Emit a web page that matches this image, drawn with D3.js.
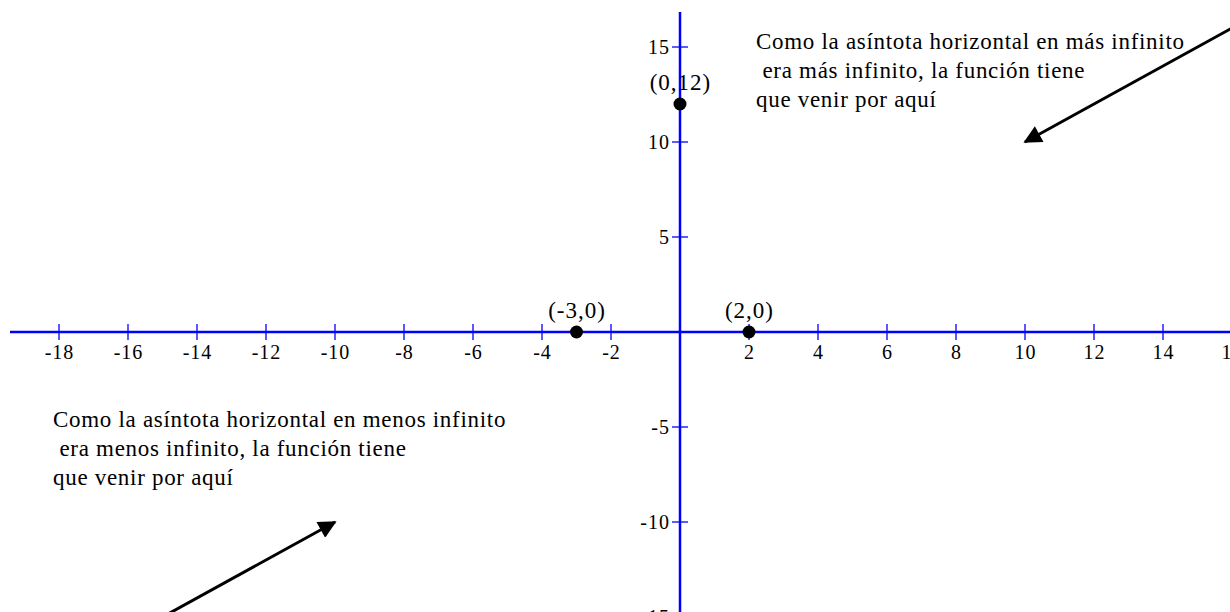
<!DOCTYPE html>
<html>
<head>
<meta charset="utf-8">
<script src="https://cdn.jsdelivr.net/npm/d3@7"></script>
<style>
  body { margin: 0; background: #fff; }
  svg { display: block; }
  text { font-family: "Liberation Serif", "Times New Roman", serif; fill: #000; }
</style>
</head>
<body>
<script>
// tick values on both axes
var xTicks = [-18, -16, -14, -12, -10, -8, -6, -4, -2, 2, 4, 6, 8, 10, 12, 14, 16];
var yTicks = [-15, -10, -5, 5, 10, 15];

// marked points and their labels
var points = [[-3, 0], [0, 12], [2, 0]];
var pointLabels = ["(-3,0)", "(0,12)", "(2,0)"];

// arrows: [from, to]
var arrowUp = [[16.5, 16.5], [10, 10]];
var arrowDown = [[-15.5, -15.5], [-10, -10]];

var textUp = ["Como la asíntota horizontal en más infinito",
              " era más infinito, la función tiene",
              "que venir por aquí"];
var textDown = ["Como la asíntota horizontal en menos infinito",
                " era menos infinito, la función tiene",
                "que venir por aquí"];

var w = 1230, h = 612;

var xScale = d3.scaleLinear().domain([-20, 20]).range([-10, 1370]);
var yScale = d3.scaleLinear().domain([-20, 20]).range([712, -48]);

var svg = d3.select("body").append("svg")
    .attr("width", w)
    .attr("height", h);

var blue = "#0000ff";

// axes lines
svg.append("line")
   .attr("x1", 10).attr("x2", w)
   .attr("y1", yScale(0)).attr("y2", yScale(0))
   .attr("stroke", blue).attr("stroke-width", 2.5);

svg.append("line")
   .attr("x1", xScale(0)).attr("x2", xScale(0))
   .attr("y1", 12).attr("y2", h)
   .attr("stroke", blue).attr("stroke-width", 2.5);

// x ticks
svg.selectAll(".xtick")
   .data(xTicks)
   .enter().append("line")
   .attr("class", "xtick")
   .attr("x1", function(d) { return xScale(d); })
   .attr("x2", function(d) { return xScale(d); })
   .attr("y1", yScale(0) - 8)
   .attr("y2", yScale(0) + 8)
   .attr("stroke", blue).attr("stroke-width", 1.3);

svg.selectAll(".xlabel")
   .data(xTicks)
   .enter().append("text")
   .attr("class", "xlabel")
   .attr("x", function(d) { return xScale(d) + 0.5; })
   .attr("y", yScale(0) + 27)
   .attr("text-anchor", "middle")
   .style("font-size", "20px")
   .style("letter-spacing", "1px")
   .text(function(d) { return d; });

// y ticks
svg.selectAll(".ytick")
   .data(yTicks)
   .enter().append("line")
   .attr("class", "ytick")
   .attr("x1", xScale(0) - 8)
   .attr("x2", xScale(0) + 8)
   .attr("y1", function(d) { return yScale(d); })
   .attr("y2", function(d) { return yScale(d); })
   .attr("stroke", blue).attr("stroke-width", 1.3);

svg.selectAll(".ylabel")
   .data(yTicks)
   .enter().append("text")
   .attr("class", "ylabel")
   .attr("x", xScale(0) - 10)
   .attr("y", function(d) { return yScale(d) + 7; })
   .attr("text-anchor", "end")
   .style("font-size", "20px")
   .style("letter-spacing", "1px")
   .text(function(d) { return d; });

// arrows
var defs = svg.append("defs");
defs.append("marker")
    .attr("id", "head")
    .attr("viewBox", "0 0 10 10")
    .attr("refX", 9).attr("refY", 5)
    .attr("markerWidth", 8).attr("markerHeight", 6)
    .attr("markerUnits", "strokeWidth")
    .attr("orient", "auto")
    .append("path")
    .attr("d", "M0,0 L10,5 L0,10 z")
    .attr("fill", "#000");

[arrowUp, arrowDown].forEach(function(a) {
	svg.append("line")
	   .attr("x1", xScale(a[0][0])).attr("y1", yScale(a[0][1]))
	   .attr("x2", xScale(a[1][0])).attr("y2", yScale(a[1][1]))
	   .attr("stroke", "#000").attr("stroke-width", 3)
	   .attr("marker-end", "url(#head)");
});

// points
svg.selectAll(".pt")
   .data(points)
   .enter().append("circle")
   .attr("class", "pt")
   .attr("cx", function(d) { return xScale(d[0]); })
   .attr("cy", function(d) { return yScale(d[1]); })
   .attr("r", 6.5)
   .attr("fill", "#000");

svg.selectAll(".ptlabel")
   .data(points)
   .enter().append("text")
   .attr("class", "ptlabel")
   .attr("x", function(d) { return xScale(d[0]) + 0.5; })
   .attr("y", function(d) { return yScale(d[1]) - 14; })
   .attr("text-anchor", "middle")
   .style("font-size", "23px")
   .style("letter-spacing", "1px")
   .text(function(d, i) { return pointLabels[i]; });

// annotations
function addNote(lines, x, y) {
	svg.append("text")
	   .attr("x", x).attr("y", y)
	   .style("font-size", "23px")
	   .style("letter-spacing", "0.7px")
	   .selectAll("tspan")
	   .data(lines)
	   .enter().append("tspan")
	   .attr("x", x)
	   .attr("dy", function(d, i) { return i == 0 ? 0 : 29; })
	   .text(function(d) { return d.replace(/^ /, "\u00a0"); });
}

addNote(textUp, 756, 49);
addNote(textDown, 53, 427);
</script>
</body>
</html>
